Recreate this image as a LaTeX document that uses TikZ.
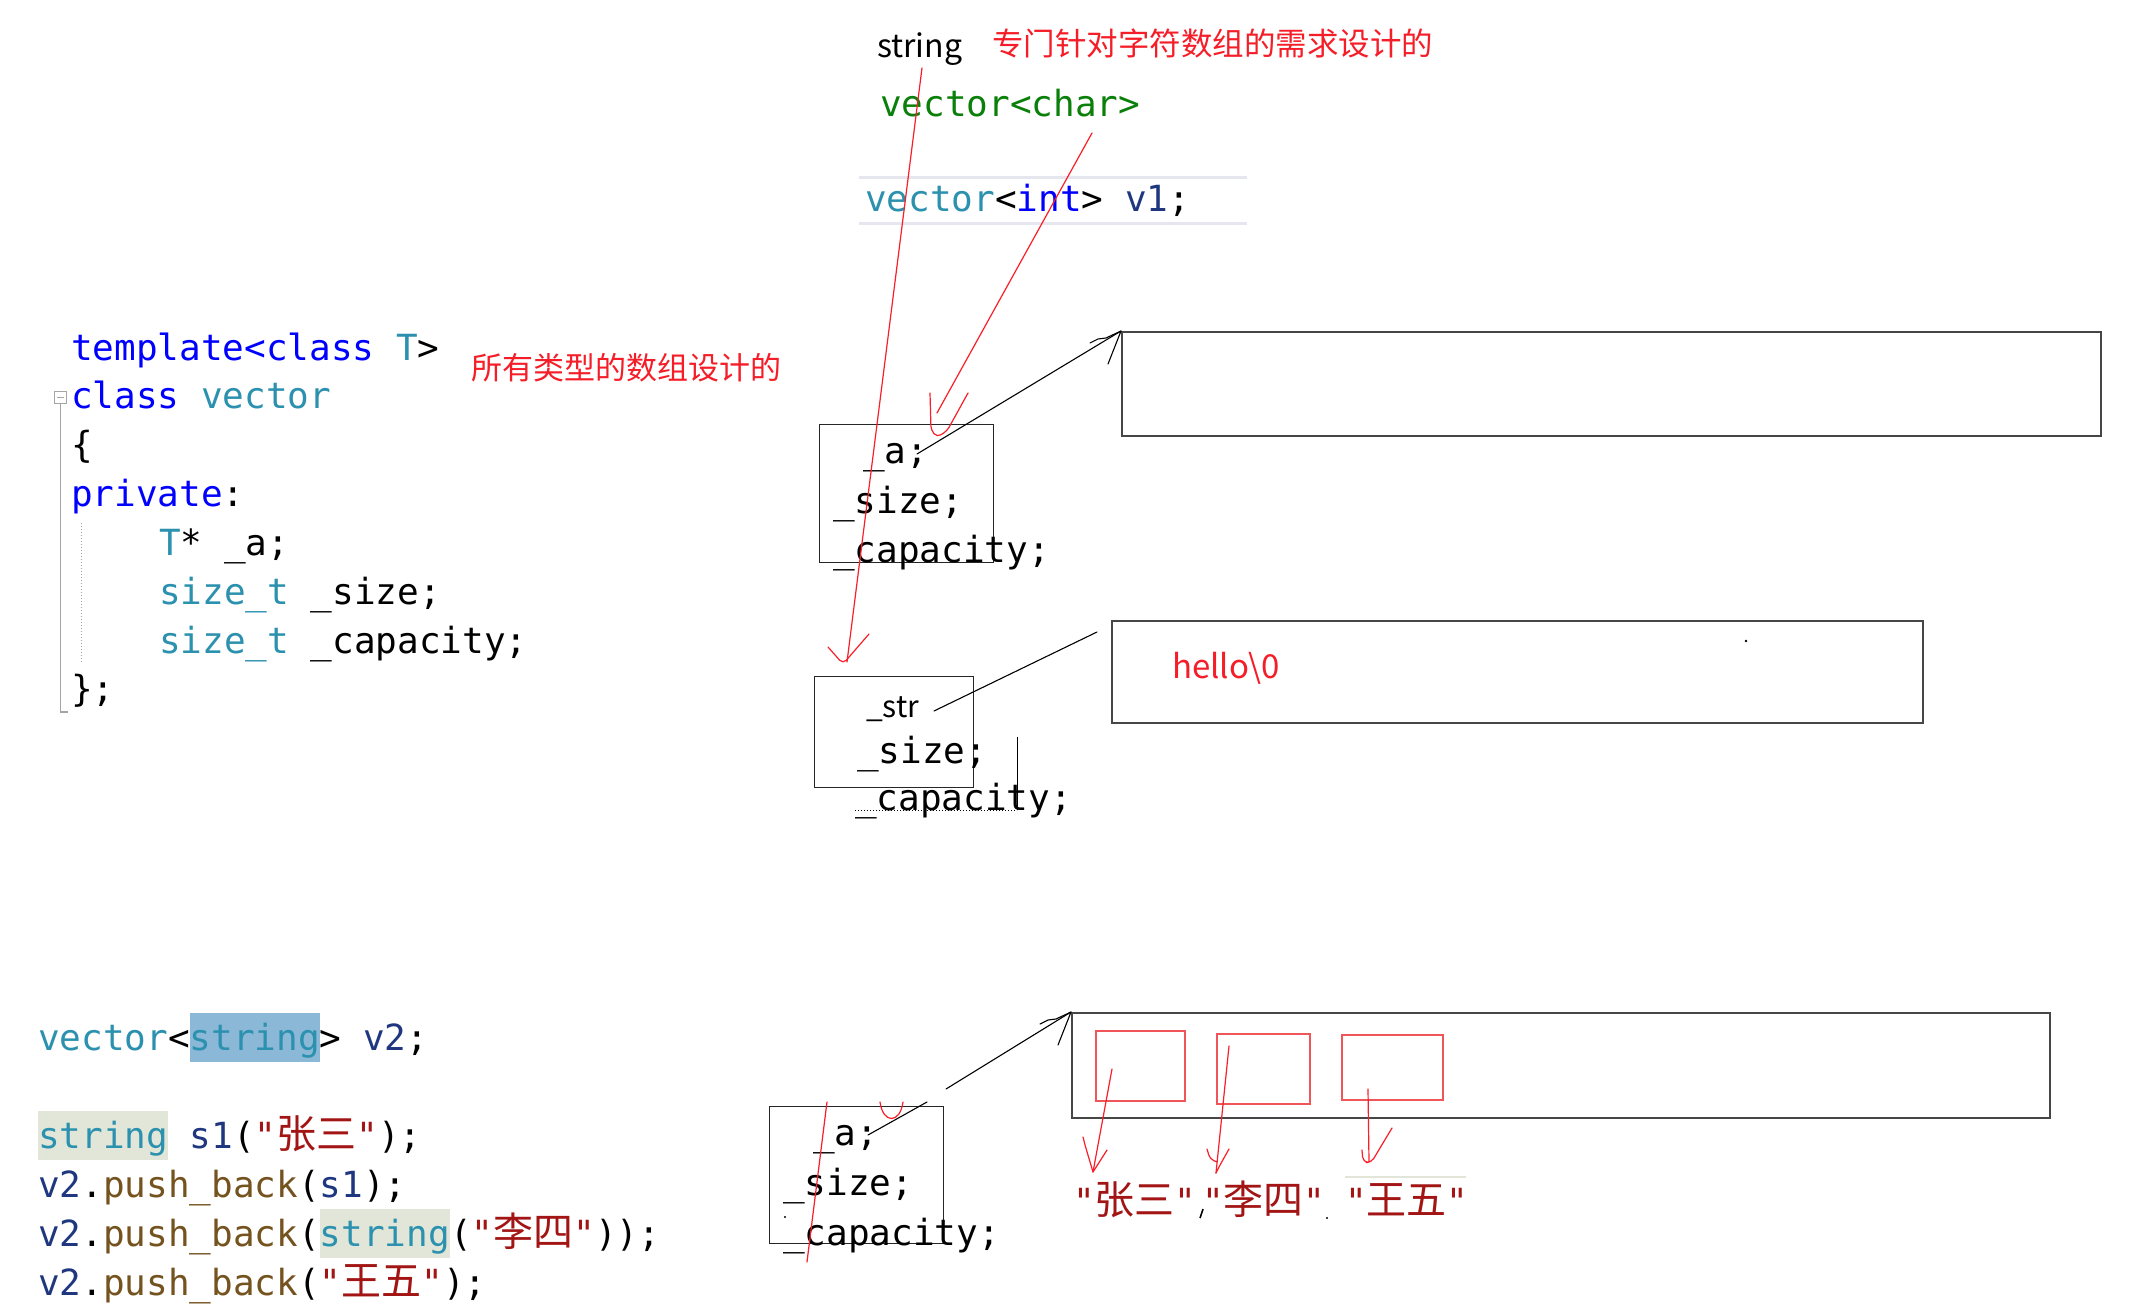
\documentclass[tikz,border=0pt]{standalone}
\usepackage{fontspec}
\usepackage{xcolor}
\usetikzlibrary{positioning}
\setmainfont{Noto Sans CJK SC}
\newfontfamily\codefont{DejaVu Sans Mono}
\newfontfamily\cjk{Noto Sans CJK SC}

\definecolor{kwblue}{RGB}{0,0,255}
\definecolor{typeteal}{RGB}{43,145,175}
\definecolor{identnavy}{RGB}{31,55,127}
\definecolor{funcbrown}{RGB}{116,83,31}
\definecolor{litred}{RGB}{163,21,21}
\definecolor{annored}{RGB}{245,30,40}
\definecolor{penred}{RGB}{250,30,40}
\definecolor{tmplgreen}{RGB}{10,128,10}
\definecolor{hlblue}{RGB}{138,184,214}
\definecolor{hlgreen}{RGB}{226,230,216}
\definecolor{guidegray}{RGB}{165,165,165}
\definecolor{rulegray}{RGB}{230,230,238}
\definecolor{boxgray}{RGB}{70,70,70}
\definecolor{cellred}{RGB}{240,85,90}

\newcommand\kwd[1]{\textcolor{kwblue}{#1}}
\newcommand\typ[1]{\textcolor{typeteal}{#1}}
\newcommand\ident[1]{\textcolor{identnavy}{#1}}
\newcommand\func[1]{\textcolor{funcbrown}{#1}}
\newcommand\strlit[1]{\textcolor{litred}{#1}}
\newcommand\zh[1]{{\cjk\fontsize{40}{44}\selectfont #1}}
\newcommand\hlword[2]{{\setlength\fboxsep{0pt}\colorbox{#1}{\rule[-12pt]{0pt}{49pt}#2}}}

\begin{document}
\begin{tikzpicture}[x=1pt,y=-1pt,
  codeline/.style={anchor=base west,inner sep=0pt,font=\codefont\fontsize{36}{40}\selectfont},
  annot/.style={anchor=base west,inner sep=0pt,text=annored,font=\cjk\fontsize{31.5}{35}\selectfont},
  sanstext/.style={anchor=base west,inner sep=0pt,font=\cjk\fontsize{32}{36}\selectfont},
  membox/.style={draw=black!85,line width=1.1pt,anchor=north west,inner sep=0pt},
  heapbox/.style={draw=boxgray,line width=1.8pt,anchor=north west,inner sep=0pt},
  cellbox/.style={draw=cellred,line width=1.5pt,anchor=north west,inner sep=0pt},
  redpen/.style={draw=penred,line width=1.2pt,line cap=round,line join=round},
  blackpen/.style={draw=black,line width=1.1pt,line cap=round,line join=round}]
\fill[white] (0,0) rectangle (2137,1316);
\useasboundingbox (0,0) rectangle (2137,1316);

% header
\node[sanstext] (strlabel) at (877,58) {string};
\node[annot] (charnote) at (992,56) {专门针对字符数组的需求设计的};
\node[codeline,text=tmplgreen] (vchar) at (880,117) {vector<char>};
\node[anchor=north west,inner sep=0pt,minimum width=388pt,minimum height=45pt] (vintrow) at (859,178) {};
\draw[rulegray,line width=3pt] (vintrow.north west) -- (vintrow.north east) (vintrow.south west) -- (vintrow.south east);
\node[codeline] (vint) at (865,212) {\typ{vector}<\kwd{int}> \ident{v1};};

% class template
\node[codeline] (tmpl) at (71,360) {\kwd{template<class} \typ{T}>};
\node[codeline] (cls) at (71,408) {\kwd{class} \typ{vector}};
\node[codeline] (lbrace) at (71,457) {\{};
\node[codeline] (priv) at (71,506) {\kwd{private}:};
\node[codeline] (fa) at (159,555) {\typ{T}* \_a;};
\node[codeline] (fsize) at (159,604) {\typ{size\_t} \_size;};
\node[codeline] (fcap) at (159,653) {\typ{size\_t} \_capacity;};
\node[codeline] (rbrace) at (71,701) {\};};
\node[annot,font=\cjk\fontsize{31}{34}\selectfont] (allnote) at (471,379) {所有类型的数组设计的};
\node[draw=guidegray,line width=1pt,minimum size=12pt,inner sep=0pt,anchor=north west] (fold) at (54,391) {};
\draw[guidegray,line width=1pt] ([xshift=3pt]fold.west) -- ([xshift=-3pt]fold.east);
\draw[guidegray,line width=1.5pt] (fold.south) |- (68,712);
\draw[guidegray,dotted,line width=1pt] (81,523) -- (81,663);

% vector object and its buffer
\node[membox,minimum width=174pt,minimum height=138pt] (objA) at (819,424) {};
\node[codeline] (objAa) at (863,463) {\_a;};
\node[codeline] (objAsize) at (833,513) {\_size;};
\node[codeline] (objAcap) at (833,562) {\_capacity;};
\node[heapbox,minimum width=979pt,minimum height=104pt] (bufA) at (1121,331) {};

% string object
\node[membox,minimum width=159pt,minimum height=111pt] (objS) at (814,676) {};
\node[sanstext,font=\cjk\fontsize{30}{34}\selectfont] (objSstr) at (866,717) {\_str};
\node[codeline] (objSsize) at (857,763) {\_size;};
\node[codeline] (objScap) at (855,810) {\_capacity;};
\coordinate (scrap) at (1017,737);
\draw[black,line width=0.9pt] (scrap) -- (scrap |- objScap.base);
\draw[black,dotted,line width=1pt] (objScap.base west) -- (scrap |- objScap.base);
\node[heapbox,minimum width=811pt,minimum height=102pt] (bufS) at (1111,620) {};
\node[sanstext,text=annored,font=\cjk\fontsize{33}{36}\selectfont] (hello) at (1172,678) {hello\textbackslash 0};
\fill (1746,641) circle (1.4pt);

% vector<string> object
\node[membox,minimum width=174pt,minimum height=137pt] (objB) at (769,1106) {};
\node[codeline] (objBa) at (813,1145) {\_a;};
\node[codeline] (objBsize) at (783,1195) {\_size;};
\node[codeline] (objBcap) at (783,1245) {\_capacity;};
\fill (785,1217) circle (1.2pt);
\node[heapbox,minimum width=978pt,minimum height=105pt] (bufB) at (1071,1012) {};
\node[cellbox,minimum width=89pt,minimum height=70pt] (cell1) at (1095,1030) {};
\node[cellbox,minimum width=93pt,minimum height=70pt] (cell2) at (1216,1033) {};
\node[cellbox,minimum width=101pt,minimum height=65pt] (cell3) at (1341,1034) {};
\node[codeline,text=litred] (elem1) at (1073,1214) {"\zh{张三}"};
\node[codeline,text=litred] (elem2) at (1202,1214) {"\zh{李四}"};
\node[codeline,text=litred] (elem3) at (1345,1214) {"\zh{王五}"};
\draw[hlgreen,line width=2.5pt] (elem3.north west |- 0,1177) -- (1466,1177);
\draw[black,line width=1.6pt] (1203,1209) -- (1200,1218);
\fill (1327,1218) circle (1.1pt);

% usage code
\node[codeline] (declv2) at (38,1050) {\typ{vector}<\hlword{hlblue}{\typ{string}}> \ident{v2};};
\node[codeline] (decls1) at (38,1148) {\hlword{hlgreen}{\typ{string}} \ident{s1}(\strlit{"\zh{张三}"});};
\node[codeline] (push1) at (38,1197) {\ident{v2}.\func{push\_back}(\ident{s1});};
\node[codeline] (push2) at (38,1246) {\ident{v2}.\func{push\_back}(\hlword{hlgreen}{\typ{string}}(\strlit{"\zh{李四}"}));};
\node[codeline] (push3) at (38,1295) {\ident{v2}.\func{push\_back}(\strlit{"\zh{王五}"});};

% pointers
\coordinate (atail) at (917,454);
\draw[blackpen] (atail) -- (bufA.north west);
\draw[blackpen] (bufA.north west) -- ++(-15,7) -- ++(-8,1) -- ++(-8,4) (bufA.north west) -- ++(-13,33);
\coordinate (strptr) at (934,711);
\coordinate (strend) at (1097,632);
\draw[blackpen] (strptr) -- (strend);
\coordinate (btail) at (868,1135);
\coordinate (bgap1) at (927,1102);
\coordinate (bgap2) at (946,1089);
\draw[blackpen] (btail) -- (bgap1) (bgap2) -- (bufB.north west);
\draw[blackpen] (bufB.north west) -- ++(-15,7) -- ++(-8,1) -- ++(-8,4) (bufB.north west) -- ++(-13,33);

% red marks
\coordinate (strtail) at (922,68);
\coordinate (strtip) at (847,662);
\draw[redpen] (strtail) -- (strtip);
\draw[redpen,rounded corners=5pt] (strtip) ++(-19,-15) -- ++(15,17) -- ++(26,-30);
\coordinate (chartail) at (1092,133);
\coordinate (chartip) at (937,413);
\draw[redpen] (chartail) -- (chartip);
\draw[redpen,rounded corners=4pt] (chartip) ++(-7,-20) -- ++(1,37) -- ++(6,7) -- ++(10,-6) -- ++(21,-38);
\coordinate (scribtop) at (827,1102);
\coordinate (scribend) at (807,1262);
\draw[redpen] (scribtop) -- (scribend);
\draw[redpen] (880,1102) .. controls (883,1124) and (900,1124) .. (903,1102);
\coordinate (c1tail) at (1112,1069);
\coordinate (c1tip) at (1093,1172);
\draw[redpen] (c1tail) -- (c1tip);
\draw[redpen] (c1tip) ++(-10,-35) -- ++(2,8) -- ++(8,27) -- ++(14,-22);
\coordinate (c2tail) at (1229,1046);
\coordinate (c2tip) at (1216,1173);
\draw[redpen] (c2tail) -- (c2tip);
\draw[redpen,rounded corners=4pt] (c2tip) ++(-9,-24) -- ++(3,10) -- ++(7,3) (c2tip) -- ++(4,-8) -- ++(9,-16);
\coordinate (c3tail) at (1368,1089);
\coordinate (c3tip) at (1369,1162);
\draw[redpen] (c3tail) -- (c3tip);
\draw[redpen,rounded corners=5pt] (c3tip) ++(-7,-12) -- ++(1,12) -- ++(8,1) -- ++(21,-35);
\end{tikzpicture}
\end{document}
